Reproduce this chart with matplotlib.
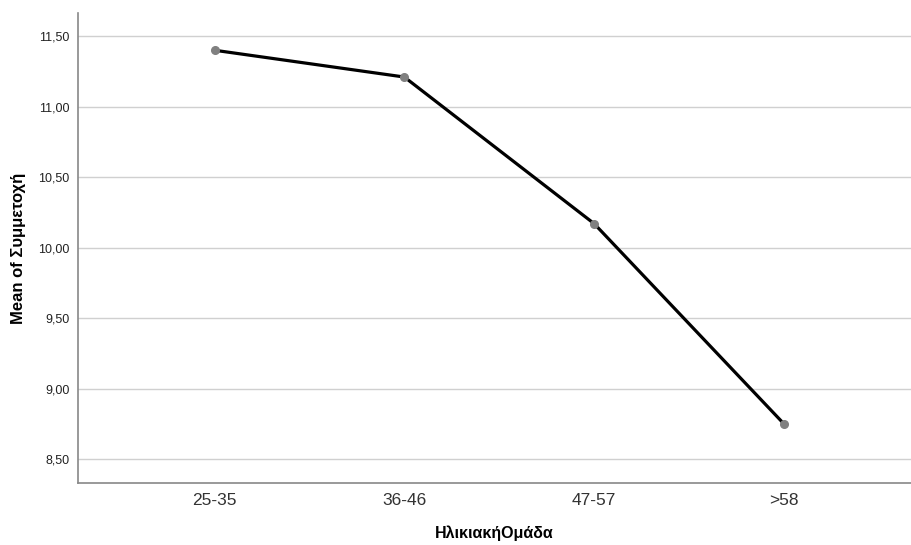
import matplotlib
matplotlib.use("Agg")
import matplotlib.pyplot as plt
from matplotlib.ticker import FuncFormatter

plt.rcParams['font.family'] = ['Liberation Sans', 'DejaVu Sans']

# Data
age_groups = ['25-35', '36-46', '47-57', '>58']
mean_values = [11.40, 11.21, 10.17, 8.75]
y_ticks = [8.5, 9.0, 9.5, 10.0, 10.5, 11.0, 11.5]

fig = plt.figure(figsize=(9.11, 5.45), dpi=100)
ax = fig.add_axes([0.0856, 0.1138, 0.9144, 0.862])

x = list(range(len(age_groups)))
ax.plot(x, mean_values, color='black', linewidth=2.3, zorder=3)
ax.plot(x, mean_values, linestyle='none', marker='o', markersize=5.5,
        color='#808080', zorder=4)

ax.set_xlim(-0.72, 3.67)
ax.set_ylim(8.33, 11.663)
ax.set_xticks(x)
ax.set_xticklabels(age_groups, fontsize=12.5, color='#333333')
ax.set_yticks(y_ticks)
ax.yaxis.set_major_formatter(FuncFormatter(lambda v, p: f"{v:.2f}".replace('.', ',')))
ax.tick_params(axis='y', length=0, labelsize=9, pad=6, labelcolor='#222222')
ax.tick_params(axis='x', length=0, pad=7)

ax.grid(axis='y', color='#d0d0d0', linewidth=1.0)
ax.set_axisbelow(True)
for s in ['top', 'right']:
    ax.spines[s].set_visible(False)
for s in ['left', 'bottom']:
    ax.spines[s].set_color('#888888')
    ax.spines[s].set_linewidth(1.2)

ax.set_xlabel('ΗλικιακήΟμάδα', fontsize=11.5, fontweight='bold', labelpad=13)
ax.set_ylabel('Mean of Συμμετοχή', fontsize=12, fontweight='bold', labelpad=9)

fig.savefig('out.png', dpi=100)
